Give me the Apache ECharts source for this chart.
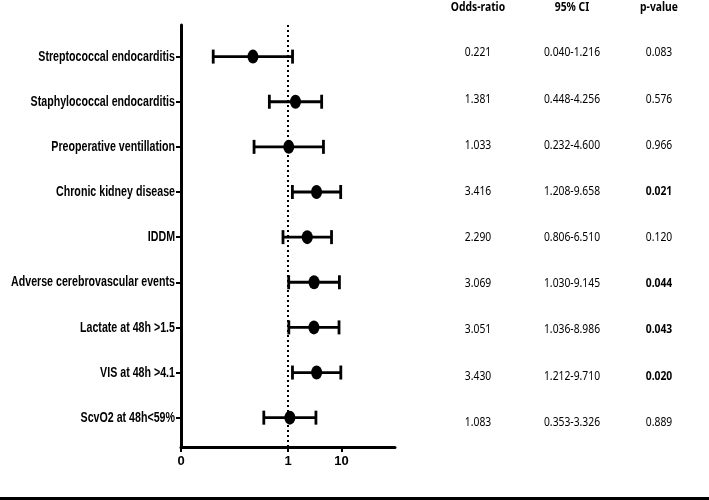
<!DOCTYPE html>
<html>
<head>
<meta charset="utf-8">
<script src="https://cdn.jsdelivr.net/npm/echarts@6/dist/echarts.min.js"></script>
<style>
  html, body { margin: 0; padding: 0; background: #fff; }
  #chart { width: 709px; height: 500px; }
</style>
</head>
<body>
<div id="chart"></div>
<script>
// rows, top to bottom
const factors = [
  "Streptococcal endocarditis",
  "Staphylococcal endocarditis",
  "Preoperative ventillation",
  "Chronic kidney disease",
  "IDDM",
  "Adverse cerebrovascular events",
  "Lactate at 48h >1.5",
  "VIS at 48h >4.1",
  "ScvO2 at 48h<59%"
];
const oddsRatio = [0.221, 1.381, 1.033, 3.416, 2.290, 3.069, 3.051, 3.430, 1.083];
const ciLow = [0.040, 0.448, 0.232, 1.208, 0.806, 1.030, 1.036, 1.212, 0.353];
const ciHigh = [1.216, 4.256, 4.600, 9.658, 6.510, 9.145, 8.986, 9.710, 3.326];
const orText = ["0.221", "1.381", "1.033", "3.416", "2.290", "3.069", "3.051", "3.430", "1.083"];
const ciText = ["0.040-1.216", "0.448-4.256", "0.232-4.600", "1.208-9.658", "0.806-6.510",
  "1.030-9.145", "1.036-8.986", "1.212-9.710", "0.353-3.326"];
const pText = ["0.083", "0.576", "0.966", "0.021", "0.120", "0.044", "0.043", "0.020", "0.889"];
const tableHeaders = ["Odds-ratio", "95% CI", "p-value"];
const xTicks = [0.01, 1, 10];

// the original picture is squeezed sideways, so texts get a scaleX
const labelFont = 'bold 15px "Liberation Sans", Arial, sans-serif';
const labelSqueeze = 0.71;
const tableFont = '12px "Noto Sans", sans-serif';
const tableSqueeze = 0.86;
const headSqueeze = 0.86;
const rowIdx = factors.map((f, i) => i + 1);

var chart = echarts.init(document.getElementById("chart"));

// table on the right, built from the text arrays
const colX = [478, 572, 659];
const tableEls = [];
tableHeaders.forEach((h, c) => {
  tableEls.push({
    type: "text", x: colX[c], y: 8, scaleX: headSqueeze,
    style: { text: h, font: "bold " + tableFont, fill: "#000", align: "center", verticalAlign: "middle" }
  });
});
factors.forEach((f, i) => {
  const y = 53 + i * 46.16;
  const sig = parseFloat(pText[i]) < 0.05;
  [orText[i], ciText[i], pText[i]].forEach((t, c) => {
    tableEls.push({
      type: "text", x: colX[c], y: y, scaleX: tableSqueeze,
      style: {
        text: t,
        font: (c === 2 && sig ? "bold " : "") + tableFont,
        fill: "#000", align: "center", verticalAlign: "middle"
      }
    });
  });
});
tableEls.push({ type: "rect", shape: { x: 0, y: 497, width: 709, height: 3 }, style: { fill: "#000" } });

var option = {
  animation: false,
  backgroundColor: "#fff",
  grid: { left: 181, top: 25, width: 214, height: 422, outerBoundsMode: "none", containLabel: false },
  xAxis: {
    type: "log",
    logBase: 10,
    min: 0.01,
    max: 100,
    axisLine: { lineStyle: { color: "#000", width: 3 } },
    axisTick: { customValues: xTicks, length: 5, lineStyle: { color: "#000", width: 2 } },
    axisLabel: {
      customValues: xTicks,
      formatter: (v) => (v < 0.1 ? "0" : String(Math.round(v))),
      color: "#000", fontWeight: "bold", fontSize: 13, fontFamily: "Liberation Sans", margin: 8
    },
    splitLine: { show: false }
  },
  yAxis: {
    type: "value",
    inverse: true,
    min: 0.3,
    max: 9.65,
    axisLine: { show: true, lineStyle: { color: "#000", width: 3 } },
    axisTick: { show: true, customValues: rowIdx, length: 5, lineStyle: { color: "#000", width: 2 } },
    axisLabel: { show: false },
    splitLine: { show: false }
  },
  graphic: tableEls,
  series: [
    {
      type: "custom",
      data: factors.map((f, i) => [ciLow[i], ciHigh[i], i + 1]),
      encode: { x: [0, 1], y: 2 },
      renderItem: function (params, api) {
        const a = api.coord([api.value(0), api.value(2)]);
        const b = api.coord([api.value(1), api.value(2)]);
        const cap = 7;
        const st = { stroke: "#000", lineWidth: 2.8 };
        return {
          type: "group",
          children: [
            { type: "line", shape: { x1: a[0], y1: a[1], x2: b[0], y2: b[1] }, style: st },
            { type: "line", shape: { x1: a[0], y1: a[1] - cap, x2: a[0], y2: a[1] + cap }, style: st },
            { type: "line", shape: { x1: b[0], y1: b[1] - cap, x2: b[0], y2: b[1] + cap }, style: st },
            {
              type: "text",
              x: params.coordSys.x - 6, y: a[1], scaleX: labelSqueeze,
              style: {
                text: factors[params.dataIndex], font: labelFont, fill: "#000",
                align: "right", verticalAlign: "middle"
              }
            }
          ]
        };
      },
      markLine: {
        silent: true,
        symbol: "none",
        label: { show: false },
        lineStyle: { color: "#000", type: [2, 3], width: 2 },
        data: [{ xAxis: 1 }]
      },
      z: 2
    },
    {
      type: "scatter",
      data: factors.map((f, i) => [oddsRatio[i], i + 1]),
      symbol: "circle",
      symbolSize: [11, 14],
      itemStyle: { color: "#000", opacity: 1 },
      z: 3
    }
  ]
};
chart.setOption(option);
</script>
</body>
</html>
